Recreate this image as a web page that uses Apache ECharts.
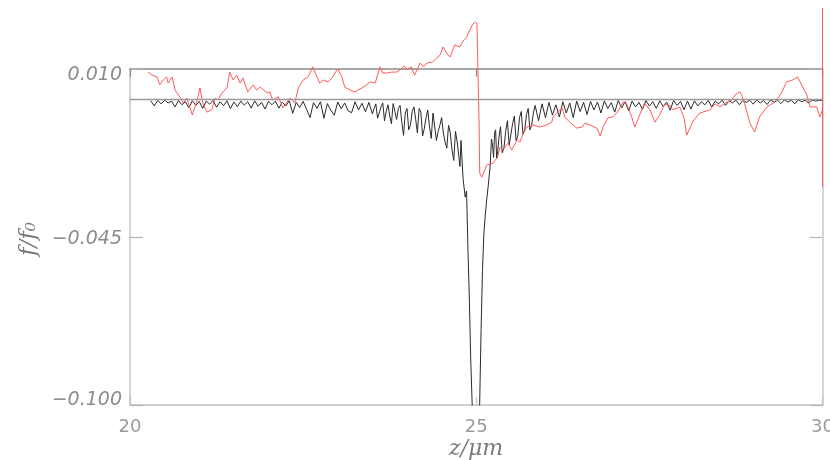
<!DOCTYPE html>
<html>
<head>
<meta charset="utf-8">
<script src="https://cdn.jsdelivr.net/npm/echarts@6/dist/echarts.min.js"></script>
<style>
  html, body { margin: 0; padding: 0; background: #fff; overflow: hidden; }
  #chart { width: 830px; height: 460px; }
</style>
</head>
<body>
<div id="chart"></div>
<script>
// Tick positions on both axes
const zTicks = [20, 25, 30];
const fTicks = [-0.100, -0.045, 0.010];

// Axis titles
const zTitle = 'z/\u03BCm';
const fTitle = 'f/f\u2080';

// Reference level drawn across the plot
const zeroLevel = 0;

// Black trace: [z, f/f0]
const blackCurve = [
  [20.30,-0.0005],[20.35,-0.0022],[20.40,-0.0004],[20.45,-0.0015],[20.50,-0.0003],
  [20.55,-0.0012],[20.60,-0.0006],[20.65,-0.0025],[20.70,-0.0004],[20.75,-0.0018],
  [20.80,-0.0008],[20.85,-0.0028],[20.90,-0.0005],[20.95,-0.0020],[21.00,-0.0007],
  [21.05,-0.0030],[21.10,-0.0006],[21.15,-0.0016],[21.20,-0.0004],[21.25,-0.0026],
  [21.30,-0.0008],[21.35,-0.0021],[21.40,-0.0005],[21.45,-0.0031],[21.50,-0.0009],
  [21.55,-0.0024],[21.60,-0.0006],[21.65,-0.0019],[21.70,-0.0008],[21.75,-0.0029],
  [21.80,-0.0005],[21.85,-0.0023],[21.90,-0.0010],[21.95,-0.0032],[22.00,-0.0007],
  [22.05,-0.0018],[22.10,-0.0006],[22.15,-0.0029],[22.20,-0.0009],[22.25,-0.0022],
  [22.30,-0.0005],[22.35,-0.0046],[22.40,-0.0010],[22.45,-0.0027],[22.50,-0.0007],
  [22.55,-0.0033],[22.60,-0.0060],[22.65,-0.0011],[22.70,-0.0030],[22.75,-0.0008],
  [22.80,-0.0062],[22.85,-0.0014],[22.90,-0.0036],[22.95,-0.0052],[23.00,-0.0009],
  [23.05,-0.0031],[23.10,-0.0012],[23.15,-0.0038],[23.20,-0.0044],[23.25,-0.0008],
  [23.30,-0.0035],[23.35,-0.0013],[23.40,-0.0041],[23.45,-0.0010],[23.50,-0.0048],
  [23.525,-0.0030],[23.55,-0.0015],[23.575,-0.0062],[23.60,-0.0056],[23.625,-0.0025],
  [23.65,-0.0012],[23.675,-0.0070],[23.70,-0.0039],[23.725,-0.0018],[23.75,-0.0054],
  [23.775,-0.0080],[23.80,-0.0014],[23.825,-0.0040],[23.85,-0.0066],[23.875,-0.0030],
  [23.90,-0.0020],[23.925,-0.0075],[23.95,-0.0118],[23.975,-0.0045],[24.00,-0.0030],
  [24.025,-0.0100],[24.05,-0.0085],[24.075,-0.0040],[24.10,-0.0025],[24.125,-0.0065],
  [24.15,-0.0110],[24.175,-0.0030],[24.20,-0.0042],[24.225,-0.0120],[24.25,-0.0096],
  [24.275,-0.0060],[24.30,-0.0035],[24.325,-0.0090],[24.35,-0.0128],[24.375,-0.0045],
  [24.40,-0.0050],[24.425,-0.0135],[24.45,-0.0105],[24.475,-0.0085],[24.50,-0.0060],
  [24.525,-0.0110],[24.55,-0.0140],[24.575,-0.0160],[24.60,-0.0085],[24.625,-0.0110],
  [24.65,-0.0165],[24.675,-0.0200],[24.70,-0.0105],[24.725,-0.0140],[24.75,-0.0190],
  [24.765,-0.0220],[24.78,-0.0135],[24.81,-0.0260],[24.84,-0.0320],[24.86,-0.0300],
  [24.88,-0.0490],[24.90,-0.0650],[24.92,-0.0850],[24.94,-0.0990],[24.97,-0.1150],
  [25.00,-0.1200],[25.03,-0.1150],[25.05,-0.0990],[25.07,-0.0750],[25.09,-0.0560],
  [25.11,-0.0440],[25.13,-0.0380],[25.15,-0.0330],[25.17,-0.0290],[25.20,-0.0220],
  [25.22,-0.0130],[25.235,-0.0150],[25.25,-0.0190],[25.265,-0.0110],[25.28,-0.0100],
  [25.295,-0.0195],[25.31,-0.0170],[25.33,-0.0120],[25.35,-0.0090],[25.375,-0.0175],
  [25.40,-0.0160],[25.425,-0.0105],[25.45,-0.0070],[25.475,-0.0150],[25.50,-0.0145],
  [25.525,-0.0080],[25.55,-0.0055],[25.575,-0.0135],[25.60,-0.0120],[25.625,-0.0060],
  [25.65,-0.0040],[25.675,-0.0115],[25.70,-0.0100],[25.725,-0.0050],[25.75,-0.0030],
  [25.775,-0.0100],[25.80,-0.0085],[25.825,-0.0045],[25.85,-0.0020],[25.90,-0.0070],
  [25.95,-0.0015],[26.00,-0.0060],[26.05,-0.0010],[26.10,-0.0052],[26.15,-0.0018],
  [26.20,-0.0058],[26.25,-0.0008],[26.30,-0.0045],[26.35,-0.0012],[26.40,-0.0060],
  [26.45,-0.0006],[26.50,-0.0040],[26.55,-0.0010],[26.60,-0.0050],[26.65,-0.0007],
  [26.70,-0.0035],[26.75,-0.0009],[26.80,-0.0045],[26.85,-0.0005],[26.90,-0.0030],
  [26.95,-0.0011],[27.00,-0.0042],[27.05,-0.0004],[27.10,-0.0028],[27.15,-0.0008],
  [27.20,-0.0038],[27.25,-0.0006],[27.30,-0.0025],[27.35,-0.0010],[27.40,-0.0033],
  [27.45,-0.0004],[27.50,-0.0022],[27.55,-0.0008],[27.60,-0.0030],[27.65,-0.0005],
  [27.70,-0.0024],[27.75,-0.0009],[27.80,-0.0036],[27.85,-0.0004],[27.90,-0.0020],
  [27.95,-0.0007],[28.00,-0.0034],[28.05,-0.0006],[28.10,-0.0032],[28.15,-0.0005],
  [28.20,-0.0022],[28.25,-0.0008],[28.30,-0.0018],[28.35,-0.0004],[28.40,-0.0025],
  [28.45,-0.0006],[28.50,-0.0015],[28.55,-0.0003],[28.60,-0.0020],[28.65,-0.0005],
  [28.70,-0.0012],[28.75,-0.0003],[28.80,-0.0018],[28.85,-0.0004],[28.90,-0.0010],
  [28.95,-0.0003],[29.00,-0.0016],[29.05,-0.0002],[29.10,-0.0012],[29.15,-0.0004],
  [29.20,-0.0017],[29.25,-0.0002],[29.30,-0.0010],[29.35,-0.0003],[29.40,-0.0014],
  [29.45,-0.0002],[29.50,-0.0009],[29.55,-0.0003],[29.60,-0.0015],[29.65,-0.0002],
  [29.70,-0.0008],[29.75,-0.0003],[29.80,-0.0012],[29.85,-0.0002],[29.90,-0.0006],
  [29.95,-0.0003],[30.00,-0.0004]
];

// Red trace: [z, f/f0]
const redCurve = [
  [20.26,0.0089],[20.32,0.0079],[20.39,0.0073],[20.43,0.0047],[20.48,0.0063],
  [20.53,0.0073],[20.55,0.0053],[20.61,0.0073],[20.65,0.0030],[20.72,0.0008],
  [20.77,-0.0012],[20.82,0.0004],[20.90,-0.0051],[20.97,-0.0002],[21.01,0.0037],
  [21.05,-0.0012],[21.11,-0.0042],[21.18,-0.0035],[21.23,0.0004],[21.27,-0.0002],
  [21.33,0.0021],[21.40,0.0037],[21.44,0.0089],[21.49,0.0063],[21.54,0.0079],
  [21.59,0.0053],[21.63,0.0070],[21.70,0.0024],[21.78,0.0047],[21.83,0.0030],
  [21.88,0.0040],[21.98,0.0021],[22.02,0.0024],[22.06,-0.0002],[22.14,0.0008],
  [22.21,-0.0028],[22.31,0.0004],[22.38,-0.0012],[22.43,0.0037],[22.50,0.0063],
  [22.57,0.0073],[22.64,0.0106],[22.70,0.0073],[22.74,0.0053],[22.79,0.0063],
  [22.86,0.0057],[22.92,0.0070],[22.96,0.0086],[23.00,0.0099],[23.06,0.0073],
  [23.10,0.0040],[23.18,0.0030],[23.25,0.0024],[23.29,0.0030],[23.35,0.0037],
  [23.42,0.0047],[23.46,0.0057],[23.54,0.0053],[23.61,0.0106],[23.65,0.0086],
  [23.72,0.0086],[23.78,0.0089],[23.85,0.0089],[23.90,0.0096],[23.96,0.0109],
  [24.00,0.0096],[24.06,0.0106],[24.11,0.0079],[24.19,0.0119],[24.24,0.0106],
  [24.29,0.0119],[24.37,0.0122],[24.43,0.0135],[24.48,0.0145],[24.52,0.0171],
  [24.58,0.0148],[24.62,0.0138],[24.69,0.0178],[24.76,0.0171],[24.82,0.0194],
  [24.86,0.0203],[24.91,0.0227],[24.95,0.0246],[24.99,0.0253],[25.01,0.0246],
  [25.04,-0.0068],[25.05,-0.0242],[25.08,-0.0255],[25.15,-0.0215],[25.24,-0.0209],
  [25.31,-0.0189],[25.34,-0.0157],[25.38,-0.0166],[25.46,-0.0143],[25.51,-0.0166],
  [25.59,-0.0133],[25.63,-0.0140],[25.67,-0.0117],[25.73,-0.0091],[25.82,-0.0084],
  [25.92,-0.0091],[26.02,-0.0084],[26.09,-0.0075],[26.11,-0.0058],[26.18,-0.0042],
  [26.24,-0.0028],[26.28,-0.0058],[26.35,-0.0075],[26.45,-0.0094],[26.53,-0.0091],
  [26.57,-0.0078],[26.64,-0.0084],[26.74,-0.0094],[26.79,-0.0120],[26.83,-0.0091],
  [26.90,-0.0061],[26.97,-0.0058],[27.04,-0.0042],[27.12,-0.0009],[27.17,-0.0015],
  [27.25,-0.0061],[27.29,-0.0091],[27.36,-0.0051],[27.43,-0.0012],[27.51,-0.0035],
  [27.58,-0.0075],[27.65,-0.0051],[27.72,-0.0015],[27.80,-0.0022],[27.84,-0.0035],
  [27.94,-0.0025],[28.00,-0.0061],[28.04,-0.0117],[28.13,-0.0071],[28.23,-0.0045],
  [28.37,-0.0035],[28.45,-0.0015],[28.52,-0.0025],[28.60,-0.0012],[28.69,-0.0002],
  [28.75,0.0017],[28.81,0.0024],[28.85,0.0004],[28.91,-0.0042],[28.95,-0.0078],
  [29.02,-0.0107],[29.09,-0.0058],[29.20,-0.0025],[29.31,-0.0009],[29.41,0.0021],
  [29.48,0.0057],[29.57,0.0063],[29.64,0.0073],[29.72,0.0037],[29.77,0.0017],
  [29.82,-0.0025],[29.92,-0.0025],[29.96,-0.0058],[30.00,-0.0035],[30.00,0.0298],
  [30.00,-0.0287]
];

const chart = echarts.init(document.getElementById('chart'), null, { renderer: 'canvas' });

const fLabel = v => (v < -1e-9 ? '\u2212' : '') + Math.abs(v).toFixed(3);
const fInterval = fTicks[1] - fTicks[0];
const zInterval = zTicks[1] - zTicks[0];
const labelFont = '"DejaVu Sans", "Liberation Sans", sans-serif';
const titleFont = '"DejaVu Serif", "Liberation Serif", serif';
const tickLabelStyle = { fontSize: 19, fontStyle: 'italic', color: '#8c8c8c', fontFamily: labelFont };

chart.setOption({
  animation: false,
  backgroundColor: '#ffffff',
  grid: {
    left: 130, right: 7.5, top: 68.7, bottom: 55,
    containLabel: false, outerBoundsMode: 'none'
  },
  xAxis: [
    {
      type: 'value', position: 'bottom',
      min: zTicks[0], max: zTicks[zTicks.length - 1], interval: zInterval,
      axisLine: { show: true, onZero: false, lineStyle: { color: '#c4c4c4', width: 1.5 } },
      axisTick: { show: true, inside: true, length: 8, lineStyle: { color: '#c4c4c4', width: 1.2 } },
      axisLabel: {
        color: '#9a9a9a', fontSize: 18, fontFamily: labelFont, margin: 13,
        showMinLabel: true, showMaxLabel: true,
        formatter: v => String(Math.round(v))
      },
      splitLine: { show: false }
    },
    {
      type: 'value', position: 'top',
      min: zTicks[0], max: zTicks[zTicks.length - 1], interval: zInterval,
      axisLine: { show: true, onZero: false, lineStyle: { color: '#8a8a8a', width: 1.5 } },
      axisTick: { show: true, inside: true, length: 8, lineStyle: { color: '#8a8a8a', width: 1.2 } },
      axisLabel: { show: false },
      splitLine: { show: false }
    }
  ],
  yAxis: [
    {
      type: 'value', position: 'left',
      min: fTicks[0], max: fTicks[fTicks.length - 1], interval: fInterval,
      axisLine: { show: true, onZero: false, lineStyle: { color: '#c4c4c4', width: 1.5 } },
      axisTick: { show: true, inside: true, length: 13, lineStyle: { color: '#b4b4b4', width: 1.2 } },
      axisLabel: {
        color: '#8c8c8c', fontSize: 19, fontStyle: 'italic', fontFamily: labelFont, margin: 8,
        showMinLabel: true, showMaxLabel: true,
        formatter: v => {
          const s = fLabel(v);
          if (Math.abs(v - fTicks[2]) < 1e-6) return '{hi|' + s + '}';
          if (Math.abs(v - fTicks[0]) < 1e-6) return '{lo|' + s + '}';
          return '{mid|' + s + '}';
        },
        rich: {
          hi: Object.assign({ padding: [13, 0, 0, 0] }, tickLabelStyle),
          mid: Object.assign({ padding: [4, 0, 0, 0] }, tickLabelStyle),
          lo: Object.assign({ padding: [0, 0, 9, 0] }, tickLabelStyle)
        }
      },
      splitLine: { show: false }
    },
    {
      type: 'value', position: 'right',
      min: fTicks[0], max: fTicks[fTicks.length - 1], interval: fInterval,
      axisLine: { show: true, onZero: false, lineStyle: { color: '#c8c8c8', width: 1.5 } },
      axisTick: { show: true, inside: true, length: 13, lineStyle: { color: '#b4b4b4', width: 1.2 } },
      axisLabel: { show: false },
      splitLine: { show: false }
    }
  ],
  graphic: [
    {
      type: 'text', x: 476, y: 449, silent: true,
      style: { text: zTitle, fill: '#7a7a7a', font: 'italic 22px ' + titleFont, align: 'center', verticalAlign: 'middle' }
    },
    {
      type: 'text', x: 29, y: 239, rotation: Math.PI / 2, silent: true,
      style: { text: fTitle, fill: '#7a7a7a', font: 'italic 23px ' + titleFont, align: 'center', verticalAlign: 'middle' }
    }
  ],
  series: [
    {
      name: 'black', type: 'line', xAxisIndex: 0, yAxisIndex: 0,
      data: blackCurve, showSymbol: false, symbol: 'none',
      clip: true, z: 3,
      lineStyle: { color: '#2a2a2a', width: 1 },
      markLine: {
        silent: true, symbol: 'none', label: { show: false },
        lineStyle: { color: '#9a9a9a', width: 1.3, type: 'solid' },
        data: [{ yAxis: zeroLevel }]
      }
    },
    {
      name: 'red', type: 'line', xAxisIndex: 0, yAxisIndex: 0,
      data: redCurve, showSymbol: false, symbol: 'none',
      clip: false, z: 4,
      lineStyle: { color: '#ff5a5a', width: 1 }
    }
  ]
});
</script>
</body>
</html>
